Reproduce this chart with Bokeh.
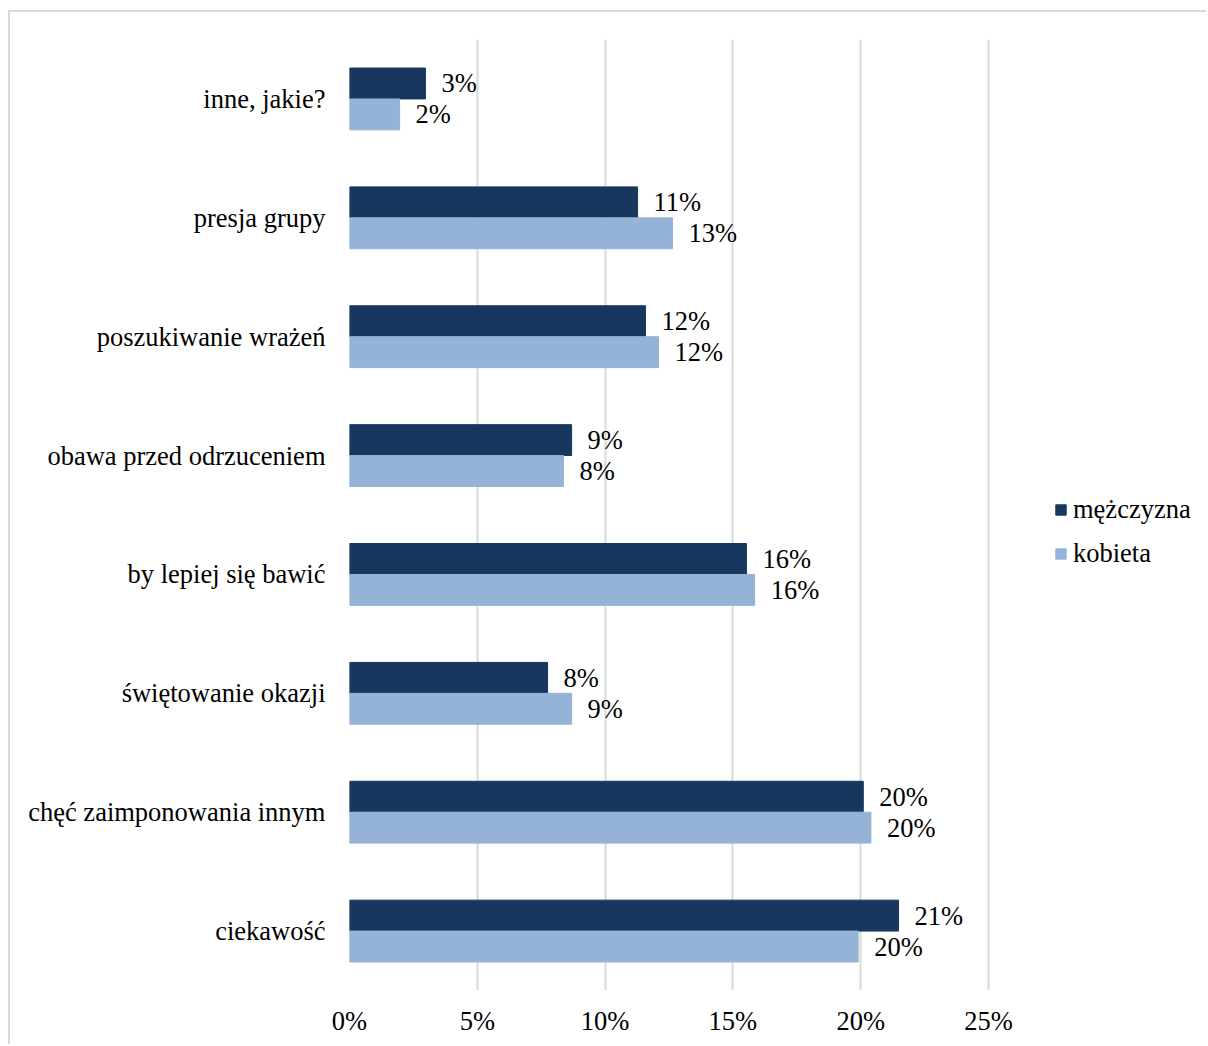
from bokeh.plotting import figure
from bokeh.models import ColumnDataSource, FactorRange, Range1d, Legend, LegendItem, NumeralTickFormatter, FixedTicker
from bokeh.transform import dodge
from bokeh.core.properties import value
from bokeh.embed import file_html
from bokeh.resources import INLINE

# Data (top-to-bottom order as shown in the chart)
categories = ["inne, jakie?", "presja grupy", "poszukiwanie wrażeń", "obawa przed odrzuceniem",
              "by lepiej się bawić", "świętowanie okazji", "chęć zaimponowania innym", "ciekawość"]
mezczyzna = [0.0297, 0.1127, 0.1158, 0.0869, 0.1553, 0.0775, 0.2010, 0.2148]
kobieta = [0.0196, 0.1264, 0.1209, 0.0837, 0.1585, 0.0869, 0.2040, 0.1990]
series_names = ["mężczyzna", "kobieta"]
x_ticks = [0, 0.05, 0.10, 0.15, 0.20, 0.25]

DARK = "#17375E"
LIGHT = "#95B3D7"
FONT = "Liberation Serif"
FS = "26.5px"

factors = list(reversed(categories))  # first factor at bottom

src = ColumnDataSource(dict(
    cat=categories,
    m=mezczyzna,
    k=kobieta,
    m_lbl=[f"{round(v*100)}%" for v in mezczyzna],
    k_lbl=[f"{round(v*100)}%" for v in kobieta],
))

W, H = 1198, 1034
FL, AXR, FR, FT, FB = 339, 978, 1192, 27, 978  # frame / axis-end edges in figure coords
x_max = x_ticks[-1]
x_end = x_max + (FR - AXR) * x_max / (AXR - FL)  # extra room on the right for the legend

p = figure(width=W, height=H, y_range=FactorRange(*factors, range_padding=0),
           x_range=Range1d(0, x_end), output_backend="svg", toolbar_location=None,
           min_border_left=FL, min_border_right=W - FR, min_border_top=FT,
           min_border_bottom=H - FB)
p.styles = {"border-top": "2px solid #d9d9d9", "border-left": "2px solid #d9d9d9",
            "margin-left": "8px", "margin-top": "10px"}

BH = 0.26
r_m = p.hbar(y=dodge("cat", BH / 2, range=p.y_range), right="m", left=0, height=BH,
             source=src, fill_color=DARK, line_color=DARK)
r_k = p.hbar(y=dodge("cat", -BH / 2, range=p.y_range), right="k", left=0, height=BH,
             source=src, fill_color=LIGHT, line_color=LIGHT)

p.text(x="m", y=dodge("cat", BH / 2, range=p.y_range), text="m_lbl", source=src,
       x_offset=16, text_baseline="middle", text_align="left",
       text_font=value(FONT), text_font_size=FS, text_color="#000000")
p.text(x="k", y=dodge("cat", -BH / 2, range=p.y_range), text="k_lbl", source=src,
       x_offset=16, text_baseline="middle", text_align="left",
       text_font=value(FONT), text_font_size=FS, text_color="#000000")

# axes
p.xaxis.ticker = FixedTicker(ticks=x_ticks)
p.xaxis.formatter = NumeralTickFormatter(format="0%")
p.xaxis.axis_line_color = None
p.xaxis.major_tick_line_color = None
p.xaxis.minor_tick_line_color = None
p.xaxis.major_label_standoff = 9
p.xaxis.major_label_text_font = FONT
p.xaxis.major_label_text_font_size = FS
p.xaxis.major_label_text_color = "#000000"

p.yaxis.axis_line_color = None
p.yaxis.major_tick_line_color = None
p.yaxis.minor_tick_line_color = None
p.yaxis.major_tick_out = 0
p.yaxis.major_label_standoff = 24
p.yaxis.major_label_text_font = FONT
p.yaxis.major_label_text_font_size = FS
p.yaxis.major_label_text_color = "#000000"

p.xgrid.grid_line_color = "#d9d9d9"
p.xgrid.grid_line_width = 2
p.ygrid.grid_line_color = None
p.outline_line_color = None

legend = Legend(items=[LegendItem(label=series_names[0], renderers=[r_m]),
                       LegendItem(label=series_names[1], renderers=[r_k])],
                location=(1044 - FL, 421), orientation="vertical")
legend.border_line_color = None
legend.background_fill_alpha = 0
legend.padding = 0
legend.margin = 0
legend.glyph_width = 13
legend.glyph_height = 13
legend.label_standoff = 6
legend.label_height = 30
legend.spacing = 13
legend.label_text_font = FONT
legend.label_text_font_size = FS
legend.label_text_color = "#000000"
p.add_layout(legend, "center")

open("out.html", "w").write(file_html(p, INLINE))
